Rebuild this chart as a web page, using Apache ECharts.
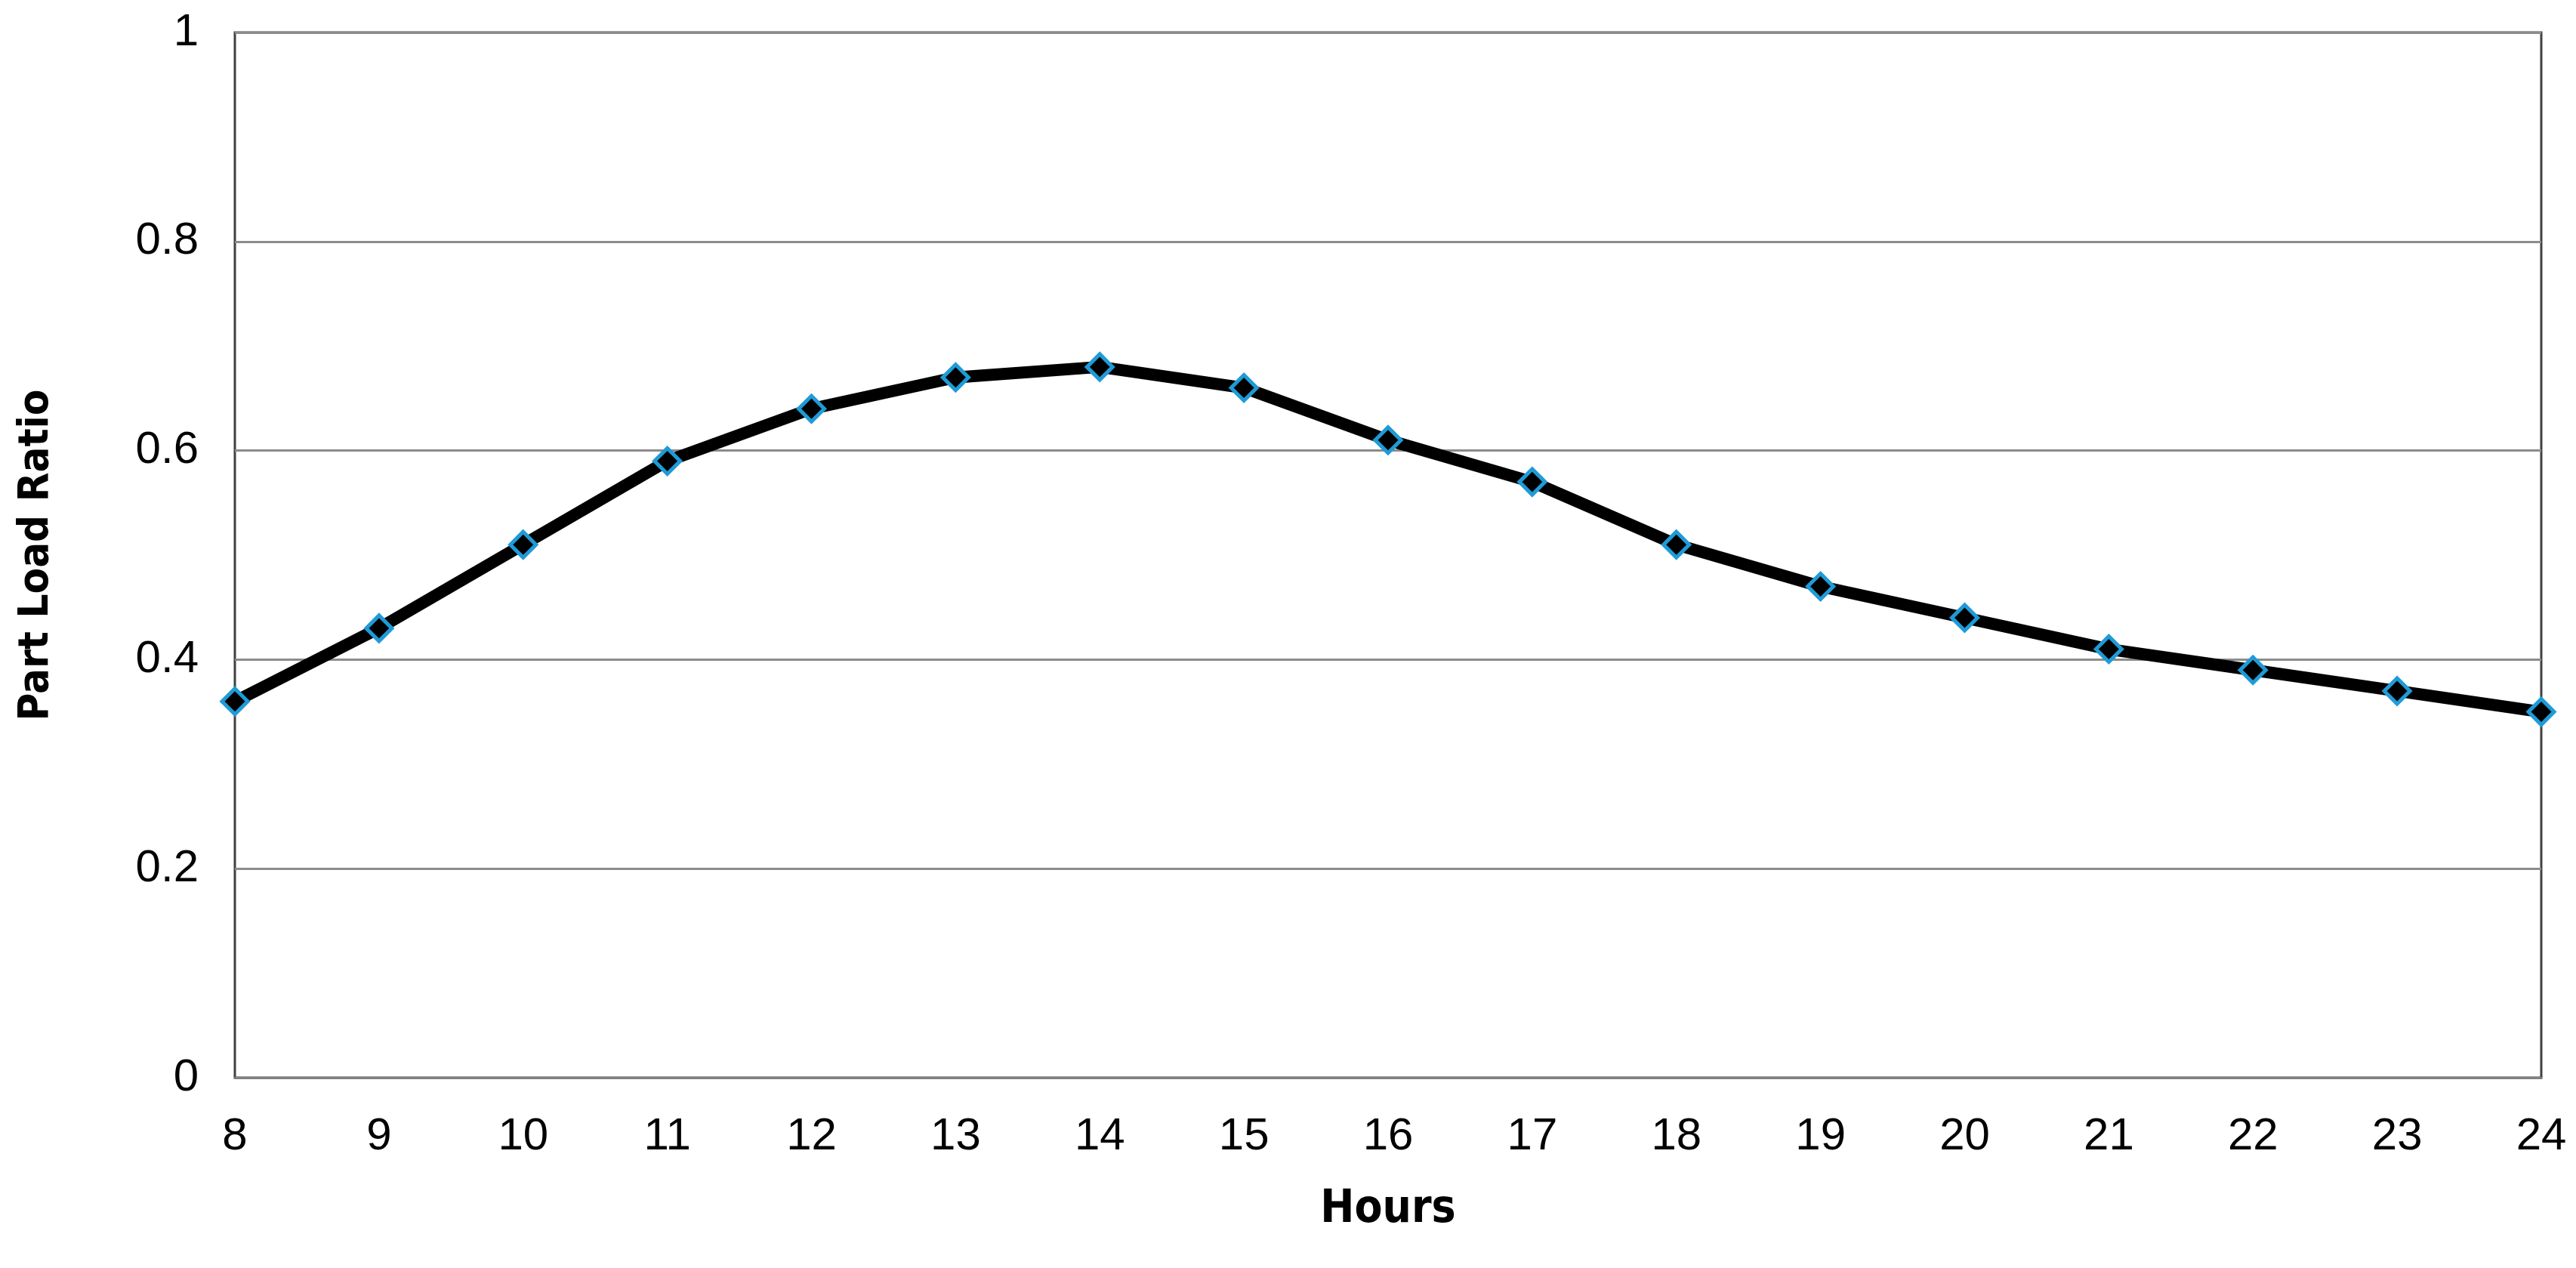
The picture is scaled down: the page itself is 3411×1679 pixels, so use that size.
<!DOCTYPE html>
<html>
<head>
<meta charset="utf-8">
<script src="https://cdn.jsdelivr.net/npm/echarts@6/dist/echarts.min.js"></script>
<style>html,body{margin:0;padding:0;background:#fff}#chart{width:3411px;height:1679px}</style>
</head>
<body>
<div id="chart"></div>
<script>
var hours = ['8','9','10','11','12','13','14','15','16','17','18','19','20','21','22','23','24'];
var partLoad = [0.36,0.43,0.51,0.59,0.64,0.67,0.68,0.66,0.61,0.57,0.51,0.47,0.44,0.41,0.39,0.37,0.35];

var chart = echarts.init(document.getElementById('chart'));
chart.setOption({
  animation: false,
  grid: { left: 311, right: 46, top: 43, bottom: 252, show: true, borderColor: '#404040', borderWidth: 3 },
  xAxis: {
    type: 'category', data: hours, boundaryGap: false,
    name: 'Hours', nameLocation: 'middle', nameGap: 145,
    nameTextStyle: { fontFamily: 'DejaVu Sans Condensed', fontWeight: 'bold', fontSize: 60, color: '#000' },
    axisLine: { lineStyle: { color: '#808080', width: 3 } },
    axisTick: { show: false },
    axisLabel: { fontFamily: 'Liberation Sans', fontSize: 60, color: '#000', margin: 48 }
  },
  yAxis: {
    type: 'value', min: 0, max: 1, interval: 0.2,
    name: 'Part Load Ratio', nameLocation: 'middle', nameGap: 235,
    nameTextStyle: { fontFamily: 'DejaVu Sans Condensed', fontWeight: 'bold', fontSize: 56, color: '#000' },
    axisLine: { show: false },
    axisTick: { show: false },
    splitLine: { lineStyle: { color: '#8c8c8c', width: 3 } },
    axisLabel: { fontFamily: 'Liberation Sans', fontSize: 60, color: '#000', margin: 48 }
  },
  series: [{
    type: 'line', data: partLoad,
    lineStyle: { color: '#000', width: 16 },
    symbol: 'diamond', symbolSize: 34,
    itemStyle: { color: '#000', borderColor: '#1f9bd7', borderWidth: 5 }
  }]
});
</script>
</body>
</html>
